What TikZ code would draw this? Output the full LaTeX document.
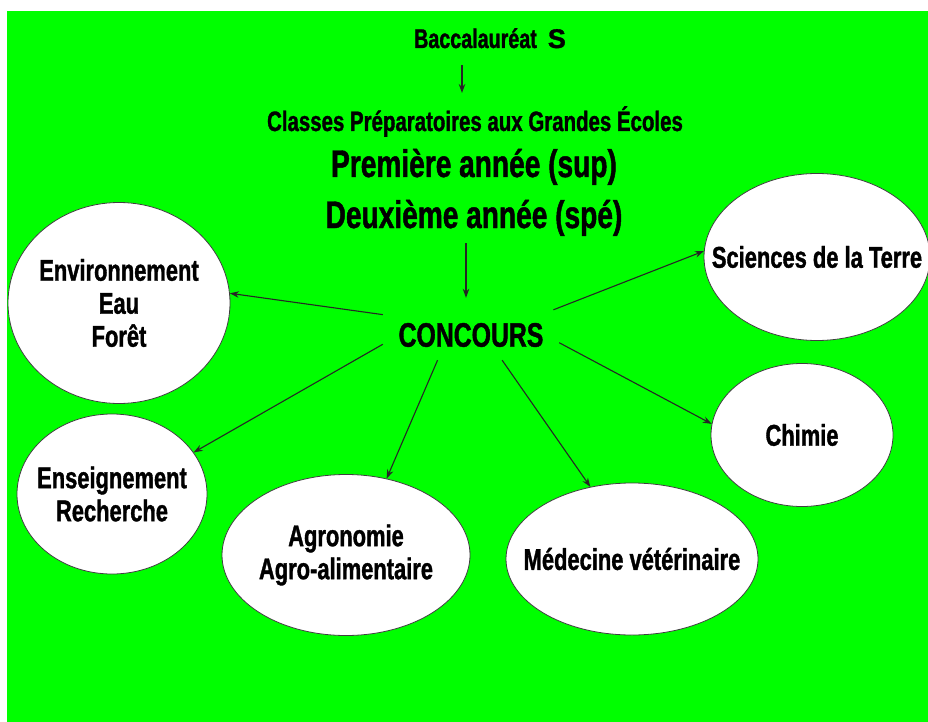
\documentclass[tikz,border=0pt]{standalone}
\usepackage{fontspec}
\setmainfont{Liberation Sans}
\newfontfamily\etroite{Liberation Sans}[FakeStretch=0.73, FakeBold=1.2]
\newfontfamily\pleine{Liberation Sans}[FakeBold=1.2]
\usetikzlibrary{arrows.meta, shapes.geometric}
\definecolor{vert}{RGB}{0,255,0}
\newcommand{\taille}[2]{\fontsize{#1}{#2}\selectfont}
\tikzset{
  bulle/.style ={draw=black!75, ellipse, fill=white, inner xsep=-30pt,
                 inner ysep=0pt, line width=0.8pt, align=center,
                 font=\etroite\bfseries\taille{30}{33}},
  ligne/.style ={anchor=base, inner sep=0pt, font=\etroite\bfseries},
  fl/.style    ={-{Stealth[length=9pt, width=6.5pt]}, line width=1.1pt,
                 draw=black!85},
}

\begin{document}
\begin{tikzpicture}[x=1pt, y=-1pt]
  \useasboundingbox (0,0) rectangle (928,722);
  \fill[vert] (7,11) rectangle (928,722);

  \node[ligne, font=\etroite\bfseries\taille{27}{30}] (bac) at (490,48)
    {Baccalauréat\hspace{11pt}{\pleine\bfseries S}};
  \node[ligne, font=\etroite\bfseries\taille{28}{31}] (classes) at (475,131)
    {Classes Préparatoires aux Grandes Écoles};
  \node[ligne, font=\etroite\bfseries\taille{38.5}{40}] (prem) at (474,177)
    {Première année (sup)};
  \node[ligne, font=\etroite\bfseries\taille{38.5}{40}] (deux) at (474,228)
    {Deuxième année (spé)};
  \node[inner sep=0pt, minimum width=176pt, minimum height=50pt,
        font=\etroite\bfseries\taille{34}{36}] (concours) at (471,335)
    {CONCOURS};

  \node[bulle, minimum width=222pt, minimum height=201pt] (env) at (119,303)
    {Environnement\\Eau\\Forêt};
  \node[bulle, minimum width=190pt, minimum height=160pt] (ens) at (112,494)
    {Enseignement\\Recherche};
  \node[bulle, minimum width=248pt, minimum height=161pt] (agro) at (346,555)
    {Agronomie\\Agro-alimentaire};
  \node[bulle, minimum width=252pt, minimum height=152pt] (med) at (632,559)
    {Médecine vétérinaire};
  \node[bulle, minimum width=182pt, minimum height=143pt] (chim) at (802,435)
    {Chimie};
  \node[bulle, minimum width=226pt, minimum height=167pt] (sci) at (817,257)
    {Sciences de la Terre};

  \draw[fl, shorten <=17pt, shorten >=13pt] ([xshift=-28pt]bac.south)
    -- ([xshift=-28pt]bac.south |- classes.north);
  \draw[fl, shorten <=7pt, shorten >=12pt] ([xshift=-8pt]deux.south)
    -- ([xshift=-8pt]deux.south |- concours.north);

  \draw[fl] (concours.167) -- (env.5);
  \draw[fl] (concours.186) -- (ens.27);
  \draw[fl] (concours.217) -- (agro.62);
  \draw[fl] (concours.-39) -- (med.120);
  \draw[fl] (concours.-5) -- (chim.173);
  \draw[fl] (concours.17) -- (sci.177);
\end{tikzpicture}
\end{document}
